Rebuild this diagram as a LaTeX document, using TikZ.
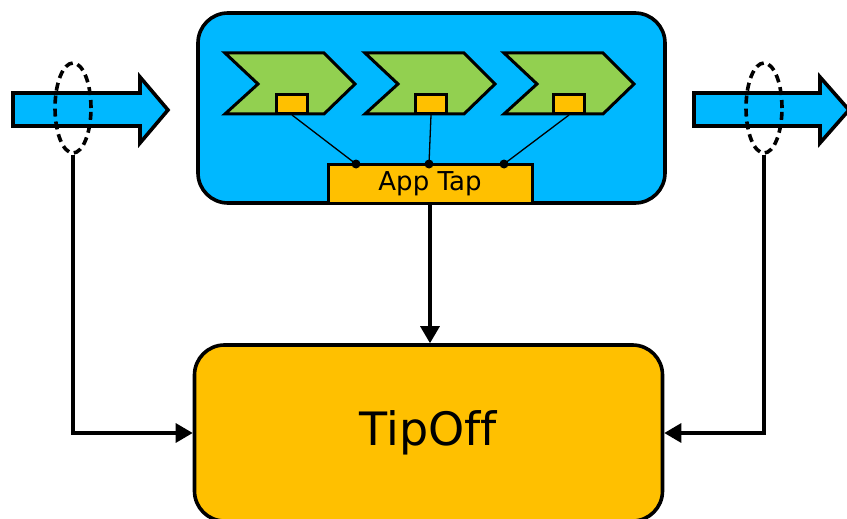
\documentclass[tikz,border=0pt]{standalone}
\usepackage{fontspec}
\setmainfont{DejaVu Sans}[Ligatures=NoCommon]
\usetikzlibrary{arrows.meta,shapes.geometric}
\definecolor{skyb}{RGB}{0,184,255}
\definecolor{leaf}{RGB}{146,208,80}
\definecolor{amber}{RGB}{255,192,0}
\tikzset{
  boxstyle/.style={draw=black,line width=3.6pt,rounded corners=30pt,inner sep=0pt},
  tapbox/.style={draw=black,line width=3pt,fill=amber,inner sep=0pt,minimum width=204pt,minimum height=39pt,font=\fontsize{26}{28}\selectfont},
  sq/.style={draw=black,line width=3pt,fill=amber,minimum width=31pt,minimum height=19pt,inner sep=0pt},
  chev/.style={draw=black,line width=3pt,fill=leaf,line join=miter},
  bigarrow/.style={draw=black,line width=3.6pt,fill=skyb,line join=miter},
  ring/.style={ellipse,draw=black,line width=3.6pt,dash pattern=on 8pt off 5pt,minimum width=36pt,minimum height=90pt,inner sep=0pt},
  conn/.style={draw=black,line width=3.2pt,-{Triangle[length=17pt,width=19pt]}},
  thin/.style={draw=black,line width=1.3pt},
  dot/.style={circle,fill=black,minimum size=9pt,inner sep=0pt}
}
\begin{document}
\begin{tikzpicture}[x=1pt,y=-1pt]
\useasboundingbox (0,0) rectangle (847,519);
% main blue box
\node[boxstyle,fill=skyb,minimum width=467pt,minimum height=190pt] (main) at (431.5,108) {};
% chevrons
\foreach \dx in {0,140,279}{
  \draw[chev] (225+\dx,53) -- (324+\dx,53) -- (355+\dx,84) -- (324+\dx,114) -- (225+\dx,114) -- (258+\dx,84) -- cycle;
}
\node[sq] (s1) at (292,104) {};
\node[sq] (s2) at (431,104) {};
\node[sq] (s3) at (569,104) {};
% App Tap
\node[tapbox] (tap) at (430,184) {App Tap};
\coordinate (d1) at (356,164);
\coordinate (d2) at (429,164);
\coordinate (d3) at (504,164);
\draw[thin] (s1.south) -- (d1);
\draw[thin] (s2.south) -- (d2);
\draw[thin] (s3.south) -- (d3);
\node[dot] at (d1) {};
\node[dot] at (d2) {};
\node[dot] at (d3) {};
% TipOff
\node[boxstyle,fill=amber,minimum width=468pt,minimum height=176pt,font=\fontsize{46}{50}\selectfont] (tip) at (428.5,433) {TipOff};
% big arrows
\draw[bigarrow] (13,93) -- (140,93) -- (140,77) -- (168,110) -- (140,143) -- (140,126) -- (13,126) -- cycle;
\draw[bigarrow] (694,93) -- (820,93) -- (820,77) -- (849,110) -- (820,143) -- (820,126) -- (694,126) -- cycle;
% dashed rings
\node[ring] (r1) at (73,108) {};
\node[ring] (r2) at (764,108) {};
% connectors
\draw[conn] (tap.south) -- (tip.north -| tap.south);
\draw[conn] (r1.south) |- (tip.west);
\draw[conn] (r2.south) |- (tip.east);
\end{tikzpicture}
\end{document}
